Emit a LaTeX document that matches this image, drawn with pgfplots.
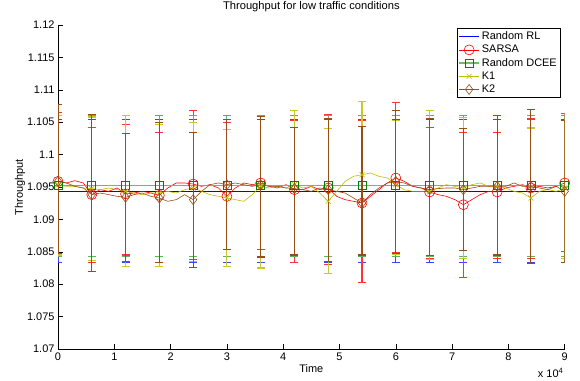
\documentclass[border=0pt]{standalone}
\usepackage{fontspec}
\setmainfont{Liberation Sans}
\usepackage{pgfplots}
\usepackage{pgfplotstable}
\pgfplotsset{compat=1.18}
\definecolor{mblue}{RGB}{0,0,255}
\definecolor{mred}{RGB}{255,0,0}
\definecolor{dceemark}{RGB}{0,128,0}
\definecolor{dceeline}{RGB}{110,185,110}
\definecolor{dceebar}{RGB}{100,175,100}
\definecolor{myellow}{RGB}{190,190,0}
\definecolor{mbrown}{RGB}{153,77,20}

\pgfplotstableread{
x y
0 1.09587
1500 1.09562
3000 1.09598
4500 1.09562
6000 1.09382
7500 1.09459
9000 1.09433
10500 1.09485
12000 1.09392
13500 1.09407
15000 1.09433
16500 1.09407
18000 1.09371
19500 1.09485
21000 1.09562
22500 1.09562
24000 1.09546
25500 1.09510
27000 1.09536
28500 1.09485
30000 1.09356
31500 1.09485
33000 1.09562
34500 1.09536
36000 1.09562
37500 1.09510
39000 1.09485
40500 1.09536
42000 1.09459
43500 1.09459
45000 1.09510
46500 1.09459
48000 1.09485
49500 1.09356
51000 1.09305
52500 1.09279
54000 1.09253
55500 1.09356
57000 1.09459
58500 1.09562
60000 1.09639
61500 1.09587
63000 1.09510
64500 1.09485
66000 1.09423
67500 1.09382
69000 1.09356
70500 1.09305
72000 1.09227
73500 1.09305
75000 1.09382
76500 1.09433
78000 1.09423
79500 1.09485
81000 1.09510
82500 1.09536
84000 1.09485
85500 1.09510
87000 1.09485
88500 1.09510
90000 1.09562
}\redline

\pgfplotstableread{
x y
0 1.09536
1500 1.09510
3000 1.09510
4500 1.09485
6000 1.09475
7500 1.09459
9000 1.09485
10500 1.09459
12000 1.09433
13500 1.09407
15000 1.09382
16500 1.09407
18000 1.09407
19500 1.09433
21000 1.09407
22500 1.09459
24000 1.09485
25500 1.09433
27000 1.09382
28500 1.09356
30000 1.09330
31500 1.09305
33000 1.09279
34500 1.09382
36000 1.09510
37500 1.09485
39000 1.09510
40500 1.09485
42000 1.09536
43500 1.09485
45000 1.09510
46500 1.09407
48000 1.09279
49500 1.09433
51000 1.09587
52500 1.09665
54000 1.09690
55500 1.09716
57000 1.09665
58500 1.09639
60000 1.09536
61500 1.09459
63000 1.09433
64500 1.09433
66000 1.09433
67500 1.09485
69000 1.09536
70500 1.09510
72000 1.09485
73500 1.09536
75000 1.09562
76500 1.09510
78000 1.09510
79500 1.09485
81000 1.09433
82500 1.09407
84000 1.09330
85500 1.09433
87000 1.09459
88500 1.09433
90000 1.09485
}\yellowline

\pgfplotstableread{
x y
0 1.09587
1500 1.09562
3000 1.09510
4500 1.09485
6000 1.09382
7500 1.09407
9000 1.09382
10500 1.09356
12000 1.09341
13500 1.09382
15000 1.09407
16500 1.09356
18000 1.09330
19500 1.09279
21000 1.09305
22500 1.09382
24000 1.09305
25500 1.09433
27000 1.09536
28500 1.09562
30000 1.09536
31500 1.09562
33000 1.09536
34500 1.09510
36000 1.09536
37500 1.09510
39000 1.09510
40500 1.09485
42000 1.09475
43500 1.09459
45000 1.09433
46500 1.09485
48000 1.09459
49500 1.09433
51000 1.09407
52500 1.09330
54000 1.09253
55500 1.09382
57000 1.09485
58500 1.09562
60000 1.09587
61500 1.09562
63000 1.09510
64500 1.09485
66000 1.09459
67500 1.09475
69000 1.09485
70500 1.09485
72000 1.09459
73500 1.09485
75000 1.09510
76500 1.09510
78000 1.09510
79500 1.09510
81000 1.09562
82500 1.09510
84000 1.09510
85500 1.09485
87000 1.09459
88500 1.09510
90000 1.09433
}\brownline

\pgfplotstableread{
x y lo hi
0 1.09434 1.0834 1.1054
6000 1.09434 1.0834 1.1054
12000 1.09434 1.0834 1.1054
18000 1.09434 1.0834 1.1054
24000 1.09434 1.0834 1.1054
30000 1.09434 1.0834 1.1054
36000 1.09434 1.0834 1.1054
42000 1.09434 1.0834 1.1054
48000 1.09434 1.0834 1.1054
54000 1.09434 1.0834 1.1054
60000 1.09434 1.0834 1.1054
66000 1.09434 1.0834 1.1054
72000 1.09434 1.0834 1.1054
78000 1.09434 1.0834 1.1054
84000 1.09434 1.0834 1.1054
90000 1.09434 1.0834 1.1054
}\blueeb

\pgfplotstableread{
x y lo hi
0 1.09526 1.0843 1.1061
6000 1.09526 1.0843 1.1061
12000 1.09526 1.0843 1.1061
18000 1.09526 1.0843 1.1061
24000 1.09526 1.0843 1.1061
30000 1.09526 1.0843 1.1061
36000 1.09526 1.0843 1.1061
42000 1.09526 1.0843 1.1061
48000 1.09526 1.0843 1.1061
54000 1.09526 1.0843 1.1061
60000 1.09526 1.0843 1.1061
66000 1.09526 1.0843 1.1061
72000 1.09526 1.0843 1.1061
78000 1.09526 1.0843 1.1061
84000 1.09526 1.0843 1.1061
90000 1.09526 1.0843 1.1061
}\greeneb

\pgfplotstableread{
x y lo hi
0 1.09587 1.0848 1.1065
6000 1.09382 1.0833 1.1042
12000 1.09392 1.0845 1.1046
18000 1.09371 1.0834 1.1034
24000 1.09546 1.0838 1.1068
30000 1.09356 1.0827 1.1049
36000 1.09562 1.0853 1.1059
42000 1.09459 1.0834 1.1052
48000 1.09485 1.0831 1.1062
54000 1.09253 1.0802 1.1053
60000 1.09639 1.0849 1.1080
66000 1.09423 1.0840 1.1042
72000 1.09227 1.0810 1.1034
78000 1.09423 1.0840 1.1034
84000 1.09485 1.0840 1.1055
90000 1.09562 1.0851 1.1063
}\redeb

\pgfplotstableread{
x y lo hi
0 1.09536 1.0845 1.1060
6000 1.09475 1.0837 1.1058
12000 1.09433 1.0827 1.1061
18000 1.09407 1.0828 1.1047
24000 1.09485 1.0835 1.1050
30000 1.09330 1.0827 1.1039
36000 1.09510 1.0825 1.1059
42000 1.09536 1.0845 1.1068
48000 1.09279 1.0816 1.1040
54000 1.09690 1.0845 1.1082
60000 1.09536 1.0846 1.1052
66000 1.09433 1.0838 1.1068
72000 1.09485 1.0839 1.1057
78000 1.09510 1.0845 1.1061
84000 1.09330 1.0832 1.1041
90000 1.09485 1.0840 1.1052
}\yelloweb

\pgfplotstableread{
x y lo hi
0 1.09587 1.0848 1.1078
6000 1.09382 1.0819 1.1062
12000 1.09341 1.0835 1.1032
18000 1.09330 1.0834 1.1050
24000 1.09305 1.0826 1.1034
30000 1.09536 1.0853 1.1054
36000 1.09536 1.0842 1.1059
42000 1.09475 1.0845 1.1042
48000 1.09459 1.0835 1.1055
54000 1.09253 1.0845 1.1043
60000 1.09587 1.0848 1.1068
66000 1.09459 1.0844 1.1056
72000 1.09459 1.0852 1.1040
78000 1.09510 1.0845 1.1061
84000 1.09510 1.0832 1.1069
90000 1.09433 1.0834 1.1052
}\browneb

\pgfplotsset{
  eb/.style={error bars/.cd, y dir=both, y explicit, error mark=|,
    error bar style={draw=#1, line width=1.1bp, solid},
    error mark options={draw=#1, mark size=4bp, line width=1.1bp, solid}},
}

\begin{document}
\begin{tikzpicture}
\useasboundingbox (-58bp,-32bp) rectangle (522bp,349bp);
\begin{axis}[
  at={(0,0)}, anchor=south west,
  scale only axis, width=506.7bp, height=324bp,
  xmin=0, xmax=90000, ymin=1.07, ymax=1.12,
  axis x line*=bottom, axis y line*=left,
  axis line style={line width=0.6bp},
  tick align=inside, major tick length=5bp,
  tick style={line width=0.6bp, black},
  xtick={0,10000,20000,30000,40000,50000,60000,70000,80000,90000},
  ytick={1.07,1.075,1.08,1.085,1.09,1.095,1.1,1.105,1.11,1.115,1.12},
  scaled x ticks=base 10:-4,
  scaled y ticks=false,
  /pgf/number format/assume math mode=true,
  yticklabel style={/pgf/number format/precision=3},
  xtick scale label code/.code={x 10\textsuperscript{4}},
  every x tick scale label/.style={at={(axis description cs:1,0)}, anchor=center, xshift=-14bp, yshift=-24bp},
  ticklabel style={font=\fontsize{11}{13}\selectfont},
  title={Throughput for low traffic conditions},
  title style={at={(axis description cs:0.5,1)}, anchor=center, yshift=12.5bp, font=\fontsize{11.2}{13}\selectfont},
  xlabel={Time},
  xlabel style={at={(axis description cs:0.5,0)}, anchor=center, yshift=-20bp, font=\fontsize{11}{13}\selectfont},
  ylabel={Throughput},
  every axis y label/.style={at={(axis description cs:-0.075,0.5)}, rotate=90, anchor=center, font=\fontsize{11}{13}\selectfont},
  legend style={at={(axis description cs:1,1)}, anchor=north east, xshift=-4bp, yshift=-3bp,
    draw=black, line width=0.8bp, font=\fontsize{11}{13}\selectfont, inner sep=1.5bp,
    row sep=0bp},
  legend cell align=left,
  legend image code/.code={\draw[mark repeat=2,mark phase=2] plot coordinates {(0bp,0bp)(10bp,0bp)(20bp,0bp)};},
]
% Random RL
\addplot[draw=mblue, line width=0.7bp, mark=none, eb=mblue!75!white] table[x=x, y=y, y error plus expr=\thisrow{hi}-\thisrow{y}, y error minus expr=\thisrow{y}-\thisrow{lo}] {\blueeb};
\addlegendentry{Random RL}
% SARSA
\addplot[draw=mred, line width=0.6bp, mark=o, mark size=5bp, mark repeat=4, mark options={solid, line width=0.6bp, draw=mred}] table[x=x,y=y] {\redline};
\addlegendentry{SARSA}
\addplot[forget plot, draw=none, mark=none, eb=mred!80!white] table[x=x, y=y, y error plus expr=\thisrow{hi}-\thisrow{y}, y error minus expr=\thisrow{y}-\thisrow{lo}] {\redeb};
% Random DCEE
\addplot[draw=dceeline, line width=1.5bp, mark=square, mark size=4bp, mark options={solid, line width=0.7bp, draw=dceemark}, eb=dceebar] table[x=x, y=y, y error plus expr=\thisrow{hi}-\thisrow{y}, y error minus expr=\thisrow{y}-\thisrow{lo}] {\greeneb};
\addlegendentry{Random DCEE}
% K1
\addplot[draw=myellow, line width=0.6bp, mark=x, mark size=3.5bp, mark repeat=4, mark options={solid, line width=0.6bp, draw=myellow}] table[x=x,y=y] {\yellowline};
\addlegendentry{K1}
\addplot[forget plot, draw=none, mark=none, eb=myellow!85!white] table[x=x, y=y, y error plus expr=\thisrow{hi}-\thisrow{y}, y error minus expr=\thisrow{y}-\thisrow{lo}] {\yelloweb};
% K2
\addplot[draw=mbrown, line width=0.6bp, mark=diamond, mark size=5bp, mark repeat=4, mark options={solid, line width=0.6bp, draw=mbrown}] table[x=x,y=y] {\brownline};
\addlegendentry{K2}
\addplot[forget plot, draw=none, mark=none, eb=mbrown] table[x=x, y=y, y error plus expr=\thisrow{hi}-\thisrow{y}, y error minus expr=\thisrow{y}-\thisrow{lo}] {\browneb};
\end{axis}
\end{tikzpicture}
\end{document}
